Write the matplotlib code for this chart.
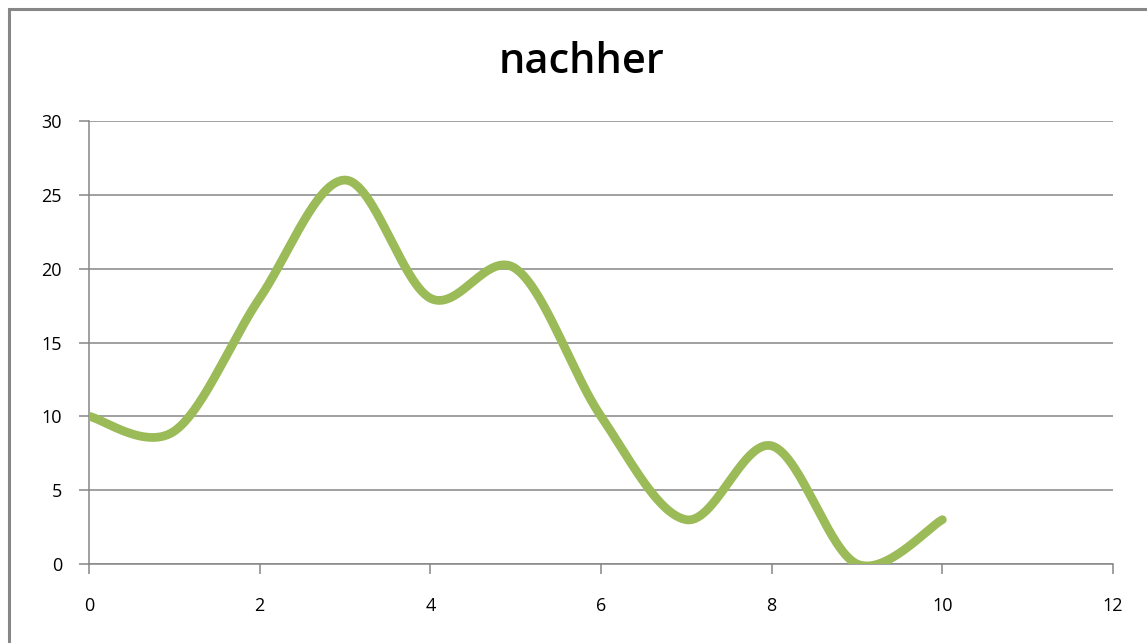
import numpy as np
import matplotlib
matplotlib.use("Agg")
import matplotlib.pyplot as plt
from matplotlib.patches import Rectangle

x_vals = [0, 1, 2, 3, 4, 5, 6, 7, 8, 9, 10]
y_vals = [10, 9, 18, 26, 18, 20, 10, 3, 8, 0, 3]
x_ticks = [0, 2, 4, 6, 8, 10, 12]
y_ticks = [0, 5, 10, 15, 20, 25, 30]
title = "nachher"

def smooth(xs, ys, n=60):
    P = np.column_stack([xs, ys]).astype(float)
    out = []
    for i in range(len(P) - 1):
        p0 = P[i - 1] if i > 0 else P[i]
        p1 = P[i]
        p2 = P[i + 1]
        p3 = P[i + 2] if i + 2 < len(P) else P[i + 1]
        c1 = p1 + (p2 - p0) / 6.0
        c2 = p2 - (p3 - p1) / 6.0
        t = np.linspace(0, 1, n)[:, None]
        seg = ((1 - t) ** 3) * p1 + 3 * ((1 - t) ** 2) * t * c1 + 3 * (1 - t) * t ** 2 * c2 + t ** 3 * p2
        out.append(seg if i == 0 else seg[1:])
    seg = np.vstack(out)
    return seg[:, 0], seg[:, 1]

W, H = 1147, 643
fig = plt.figure(figsize=(W / 100, H / 100), dpi=100)
fig.patches.append(Rectangle((8.5 / W, -0.1), 1.2, 1 - 8.5 / H + 0.1, transform=fig.transFigure,
                             fill=False, edgecolor="#878787", linewidth=2.2))
ax = fig.add_axes([89 / W, 1 - 564 / H, (1113 - 89) / W, (564 - 121) / H])

sx, sy = smooth(x_vals, y_vals)
ax.plot(sx, sy, color="#9BBB59", linewidth=6.3, solid_capstyle="round", zorder=3)

ax.set_xlim(0, 12)
ax.set_ylim(0, 30)
ax.set_xticks(x_ticks)
ax.set_yticks(y_ticks)
ax.set_xticklabels([str(v) for v in x_ticks])
ax.set_yticklabels([str(v) for v in y_ticks])
ax.grid(axis="y", color="#868686", linewidth=1.1)
ax.set_axisbelow(True)
for s in ["top", "right"]:
    ax.spines[s].set_visible(False)
for s in ["left", "bottom"]:
    ax.spines[s].set_color("#868686")
    ax.spines[s].set_linewidth(1.1)
ax.tick_params(axis="both", direction="out", length=7, width=1.1, color="#868686",
               labelsize=13, labelcolor="black")
ax.tick_params(axis="y", pad=12.5)
ax.tick_params(axis="x", pad=17)
for lab in ax.get_xticklabels() + ax.get_yticklabels():
    lab.set_family("Open Sans")

fig.text(581 / W, 1 - 62 / H, title, ha="center", va="center", fontsize=30,
         family="Open Sans", fontweight="semibold")

fig.savefig("out.png", dpi=100)
